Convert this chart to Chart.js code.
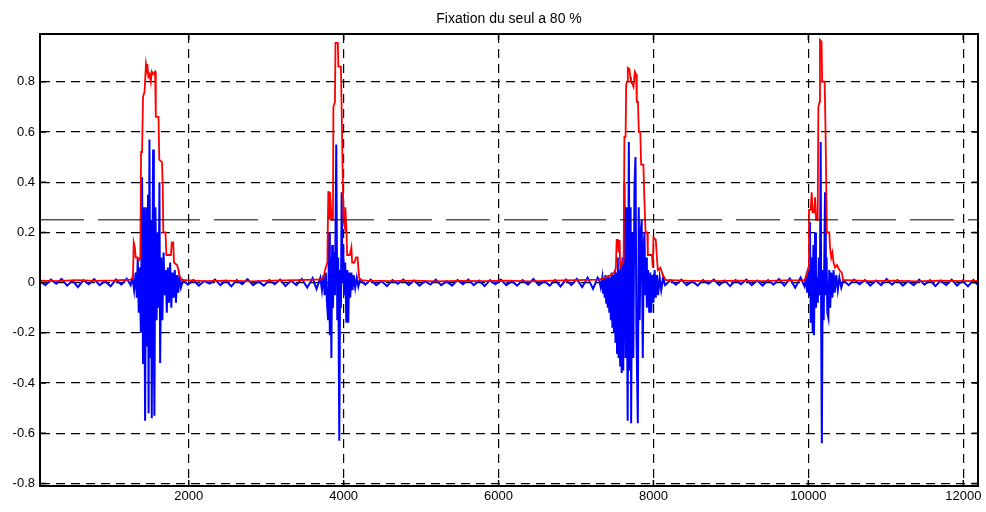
<!DOCTYPE html>
<html>
<head>
<meta charset="utf-8">
<script src="https://cdn.jsdelivr.net/npm/chart.js@4.4.1/dist/chart.umd.min.js"></script>
<style>
  body { margin: 0; background: #fff; }
  canvas { display: block; }
</style>
</head>
<body>
<canvas id="seuilChart" width="986" height="512"></canvas>
<script>
// Signal (bleu) - échantillons
const blueX = [
  80, 150, 220, 290, 360, 430, 500, 570, 640, 710, 780, 850, 920, 990, 1060, 1130, 1200,
  1250, 1275, 1295, 1315, 1330, 1342, 1355, 1368, 1382, 1398, 1410, 1422, 1437, 1450, 1462, 1474,
  1482, 1493, 1505, 1515, 1523, 1540, 1550, 1557, 1570, 1585, 1600, 1612, 1622, 1631, 1645, 1660,
  1675, 1690, 1705, 1717, 1730, 1745, 1760, 1775, 1790, 1805, 1820, 1835, 1850, 1865, 1880, 1900, 1925,
  1990, 2060, 2130, 2200, 2270, 2340, 2410, 2480, 2550, 2620, 2690, 2760, 2830, 2900, 2970, 3040,
  3110, 3180, 3250, 3320, 3390, 3460, 3530, 3600, 3650, 3700,
  3720, 3740, 3755, 3770, 3785, 3800, 3812, 3822, 3832, 3842, 3852, 3862, 3875, 3888, 3905, 3918,
  3930, 3944, 3955, 3965, 3975, 3985, 3995, 4005, 4020, 4035, 4048, 4060, 4072, 4085, 4100, 4115,
  4130, 4150, 4170, 4190, 4210,
  4280, 4350, 4420, 4490, 4560, 4630, 4700, 4770, 4840, 4910, 4980, 5050, 5120, 5190, 5260, 5330,
  5400, 5470, 5540, 5610, 5680, 5750, 5820, 5890, 5960, 6030, 6100, 6170, 6240, 6310, 6380, 6450,
  6520, 6590, 6660, 6730, 6800, 6870, 6940, 7010, 7080, 7150, 7220, 7280,
  7300, 7320, 7340, 7350, 7360, 7370, 7380, 7390, 7400, 7410, 7420, 7430, 7440, 7450, 7460, 7470,
  7480, 7490, 7500, 7510, 7520, 7530, 7540, 7550, 7560, 7570, 7580, 7590, 7600, 7610, 7626, 7640,
  7652, 7667, 7682, 7695, 7705, 7712, 7725, 7740, 7755, 7768, 7780, 7798, 7810, 7822, 7835, 7848,
  7862, 7875, 7884, 7895, 7905, 7915, 7930, 7945, 7960, 7972, 7985, 8000, 8015, 8030, 8045, 8060,
  8080, 8100, 8125, 8150,
  8220, 8290, 8360, 8430, 8500, 8570, 8640, 8710, 8780, 8850, 8920, 8990, 9060, 9130, 9200, 9270,
  9340, 9410, 9480, 9550, 9620, 9690, 9760, 9830, 9900, 9950,
  9970, 9985, 10000, 10013, 10021, 10030, 10042, 10055, 10065, 10073, 10086, 10098, 10110, 10122,
  10135, 10148, 10159, 10166, 10174, 10185, 10198, 10215, 10225, 10235, 10245, 10258, 10270, 10282,
  10295, 10310, 10325, 10340, 10360, 10380, 10400, 10425, 10450,
  10520, 10590, 10660, 10730, 10800, 10870, 10940, 11010, 11080, 11150, 11220, 11290, 11360, 11430,
  11500, 11570, 11640, 11710, 11780, 11850, 11920, 11990, 12060, 12130, 12190
];
const blueY = [
  0.005, -0.01, 0.012, -0.004, 0.015, -0.012, 0.008, -0.018, 0.01, -0.006, 0.014, -0.01, 0.006, -0.015, 0.012, -0.008, 0.016,
  -0.01, 0.02, -0.03, 0.04, -0.06, 0.1, -0.12, 0.06, -0.2, 0.42, -0.32, 0.3, -0.55, 0.3, -0.25, 0.35,
  -0.52, 0.57, -0.3, 0.25, -0.54, 0.53, -0.2, -0.53, 0.3, -0.15, 0.2, -0.1, 0.4, -0.32, 0.1, -0.15,
  0.12, -0.05, 0.05, -0.12, 0.06, -0.08, 0.08, -0.1, 0.04, -0.06, 0.05, -0.08, 0.03, -0.04, 0.02, -0.02, 0.01,
  -0.008, 0.01, -0.012, 0.006, -0.004, 0.012, -0.01, 0.008, -0.015, 0.01, -0.006, 0.014, -0.01, 0.005, -0.012, 0.01,
  -0.006, 0.012, -0.014, 0.008, -0.01, 0.015, -0.02, 0.018, -0.025, 0.02,
  -0.03, 0.03, -0.05, 0.04, -0.08, -0.15, 0.2, -0.21, 0.1, -0.3, 0.15, -0.1, 0.12, -0.05, 0.55, -0.15,
  0.1, -0.63, 0.05, -0.1, 0.36, 0.0, 0.15, -0.05, 0.08, -0.16, 0.05, -0.16, 0.04, -0.06, 0.04, -0.03,
  0.03, -0.02, 0.02, -0.015, 0.01,
  -0.008, 0.012, -0.01, 0.006, -0.014, 0.01, -0.005, 0.012, -0.01, 0.008, -0.012, 0.006, -0.008, 0.012, -0.01, 0.005,
  -0.012, 0.01, -0.006, 0.012, -0.01, 0.008, -0.014, 0.01, -0.006, 0.012, -0.01, 0.006, -0.012, 0.01, -0.008, 0.014,
  -0.01, 0.006, -0.012, 0.01, -0.015, 0.012, -0.01, 0.015, -0.018, 0.02, -0.025, 0.02,
  0.01, -0.02, 0.02, -0.04, 0.02, -0.06, 0.03, -0.08, 0.02, -0.1, 0.03, -0.12, 0.02, -0.15, 0.04, -0.18,
  0.03, -0.2, 0.05, -0.24, 0.04, -0.28, 0.1, -0.3, 0.05, -0.33, 0.08, -0.36, 0.1, -0.35, 0.4, -0.3,
  0.3, -0.55, 0.56, -0.35, 0.3, -0.56, 0.2, -0.3, 0.38, 0.5, -0.2, -0.56, 0.3, -0.15, 0.2, 0.25,
  -0.3, 0.15, 0.2, -0.05, 0.1, -0.1, 0.05, -0.12, 0.04, -0.12, 0.03, -0.08, 0.05, -0.06, 0.03, -0.05,
  0.02, -0.03, 0.02, -0.01,
  0.01, -0.008, 0.012, -0.01, 0.006, -0.012, 0.01, -0.005, 0.012, -0.01, 0.008, -0.014, 0.01, -0.006, 0.012, -0.01,
  0.008, -0.012, 0.01, -0.008, 0.014, -0.012, 0.016, -0.02, 0.02, -0.015,
  0.02, -0.04, 0.05, -0.05, 0.24, -0.16, 0.1, -0.2, 0.15, -0.21, 0.2, -0.1, 0.02, -0.08,
  0.1, -0.05, 0.56, -0.2, -0.64, 0.05, -0.15, 0.36, -0.05, 0.1, -0.12, -0.14, 0.05, -0.1,
  0.04, -0.06, 0.05, -0.04, 0.03, -0.03, 0.02, -0.02, 0.01,
  -0.01, 0.012, -0.006, 0.01, -0.012, 0.008, -0.01, 0.014, -0.008, 0.01, -0.012, 0.006, -0.01, 0.012,
  -0.008, 0.01, -0.014, 0.008, -0.01, 0.012, -0.012, 0.008, -0.015, 0.01, -0.01
];

// Enveloppe (rouge)
const redX = [
  80, 300, 550, 800, 1050, 1250,
  1280, 1290, 1305, 1315, 1340, 1360, 1375, 1385, 1398, 1410, 1430, 1448, 1458, 1465, 1480, 1495,
  1510, 1523, 1540, 1566, 1575, 1610, 1620, 1655, 1665, 1672, 1700, 1712, 1770, 1781, 1800, 1810,
  1850, 1867, 1880, 1910,
  1950, 2200, 2500, 2800, 3100, 3400, 3650,
  3700, 3740, 3760, 3790, 3802, 3812, 3818, 3825, 3835, 3845, 3862, 3868, 3888, 3895, 3925, 3932,
  3965, 3975, 3990, 4000, 4015, 4022, 4035, 4045, 4080, 4100, 4110, 4140, 4160, 4180, 4200, 4230,
  4300, 4600, 4900, 5200, 5500, 5800, 6100, 6400, 6700, 7000, 7300,
  7380, 7450, 7500, 7515, 7525, 7540, 7550, 7563, 7570, 7600, 7615, 7625, 7640, 7648, 7660, 7669,
  7690, 7700, 7710, 7730, 7742, 7760, 7776, 7785, 7800, 7811, 7830, 7841, 7870, 7884, 7898, 7920,
  7927, 7980, 7991, 8000, 8030, 8045, 8056, 8090, 8120, 8160,
  8200, 8500, 8800, 9100, 9400, 9700, 9950,
  9978, 10000, 10008, 10030, 10043, 10055, 10075, 10086, 10100, 10120, 10129, 10145, 10150, 10170,
  10178, 10210, 10222, 10238, 10270, 10280, 10295, 10310, 10325, 10345, 10370, 10400, 10430, 10450,
  10500, 10800, 11100, 11400, 11700, 12000, 12190
];
const redY = [
  0.008, 0.006, 0.01, 0.007, 0.009, 0.012,
  0.02, 0.16, 0.14, 0.1, 0.1, 0.09, 0.1, 0.52, 0.52, 0.74, 0.76, 0.87, 0.85, 0.87, 0.82, 0.83,
  0.8, 0.84, 0.83, 0.84, 0.66, 0.66, 0.49, 0.48, 0.38, 0.2, 0.2, 0.11, 0.11, 0.16, 0.16, 0.08,
  0.07, 0.05, 0.03, 0.01,
  0.01, 0.006, 0.008, 0.005, 0.008, 0.01, 0.012,
  0.012, 0.02, 0.05, 0.08, 0.36, 0.36, 0.25, 0.36, 0.36, 0.25, 0.25, 0.7, 0.72, 0.955, 0.955, 0.86,
  0.86, 0.68, 0.39, 0.24, 0.22, 0.3, 0.22, 0.11, 0.11, 0.14, 0.08, 0.08, 0.1, 0.1, 0.02, 0.01,
  0.008, 0.006, 0.008, 0.005, 0.007, 0.006, 0.008, 0.005, 0.008, 0.01, 0.012,
  0.02, 0.03, 0.04, 0.06, 0.17, 0.17, 0.12, 0.17, 0.06, 0.08, 0.09, 0.58, 0.58, 0.79, 0.8, 0.855,
  0.85, 0.82, 0.8, 0.79, 0.78, 0.84, 0.83, 0.72, 0.72, 0.6, 0.6, 0.47, 0.47, 0.32, 0.2, 0.2,
  0.11, 0.11, 0.06, 0.18, 0.17, 0.1, 0.05, 0.06, 0.03, 0.01,
  0.01, 0.007, 0.006, 0.008, 0.006, 0.009, 0.01,
  0.03, 0.06, 0.29, 0.29, 0.36, 0.28, 0.28, 0.34, 0.25, 0.25, 0.7, 0.72, 0.967, 0.96,
  0.8, 0.8, 0.6, 0.2, 0.2, 0.14, 0.1, 0.12, 0.08, 0.06, 0.07, 0.05, 0.04, 0.01,
  0.01, 0.006, 0.008, 0.005, 0.008, 0.006, 0.007
];

const threshold = 0.25;
const xRange = [80, 12190];
const yRange = [-0.81, 0.99];
const xTicks = [2000, 4000, 6000, 8000, 10000, 12000];
const yTicks = [-0.8, -0.6, -0.4, -0.2, 0, 0.2, 0.4, 0.6, 0.8];
const titleText = 'Fixation du seul a 80 %';

function toPoints(xs, ys) {
  return xs.map(function(x, i) { return { x: x, y: ys[i] }; });
}

// cadre complet, graduations intérieures et titre (style MATLAB)
const framePlugin = {
  id: 'frame',
  afterDraw: function(chart) {
    const ctx = chart.ctx;
    const a = chart.chartArea;
    const xs = chart.scales.x;
    const ys = chart.scales.y;
    ctx.save();
    ctx.strokeStyle = '#000';
    ctx.lineWidth = 1.5;
    ctx.beginPath();
    xTicks.forEach(function(v) {
      const px = xs.getPixelForValue(v);
      ctx.moveTo(px, a.bottom); ctx.lineTo(px, a.bottom - 6);
      ctx.moveTo(px, a.top); ctx.lineTo(px, a.top + 6);
    });
    yTicks.forEach(function(v) {
      const py = ys.getPixelForValue(v);
      ctx.moveTo(a.left, py); ctx.lineTo(a.left + 6, py);
      ctx.moveTo(a.right, py); ctx.lineTo(a.right - 6, py);
    });
    ctx.stroke();
    ctx.lineWidth = 2;
    ctx.strokeRect(a.left, a.top, a.right - a.left, a.bottom - a.top);
    ctx.fillStyle = '#000';
    ctx.font = '14px "Liberation Sans", Arial, sans-serif';
    ctx.textAlign = 'center';
    ctx.textBaseline = 'middle';
    ctx.fillText(titleText, (a.left + a.right) / 2, 19);
    ctx.restore();
  }
};

const tickFont = { family: '"Liberation Sans", Arial, sans-serif', size: 13 };

const ctx = document.getElementById('seuilChart').getContext('2d');
const seuilChart = new Chart(ctx, {
  type: 'line',
  data: {
    datasets: [
      {
        label: 'Seuil',
        data: [{ x: xRange[0], y: threshold }, { x: xRange[1], y: threshold }],
        borderColor: '#000',
        borderWidth: 1,
        borderDash: [44, 14],
        pointRadius: 0
      },
      {
        label: 'Enveloppe',
        data: toPoints(redX, redY),
        borderColor: '#ff0000',
        borderWidth: 1.8,
        pointRadius: 0,
        tension: 0
      },
      {
        label: 'Signal',
        data: toPoints(blueX, blueY),
        borderColor: '#0000ff',
        borderWidth: 2,
        pointRadius: 0,
        tension: 0
      }
    ]
  },
  options: {
    responsive: false,
    animation: false,
    layout: { padding: { top: 34, right: 8, left: 0, bottom: 0 } },
    plugins: {
      legend: { display: false },
      title: { display: false },
      tooltip: { enabled: false }
    },
    scales: {
      x: {
        type: 'linear',
        min: xRange[0],
        max: xRange[1],
        afterBuildTicks: function(scale) {
          scale.ticks = xTicks.map(function(v) { return { value: v }; });
        },
        afterFit: function(scale) { scale.height = 26; },
        ticks: {
          color: '#000',
          font: tickFont,
          padding: 3,
          maxRotation: 0,
          autoSkip: false,
          callback: function(value) { return String(value); }
        },
        grid: { color: '#000', lineWidth: 1.2, drawTicks: false },
        border: { display: true, color: '#000', width: 2, dash: [9, 6] }
      },
      y: {
        type: 'linear',
        min: yRange[0],
        max: yRange[1],
        afterBuildTicks: function(scale) {
          scale.ticks = yTicks.map(function(v) { return { value: v }; });
        },
        afterFit: function(scale) { scale.width = 40; },
        ticks: {
          color: '#000',
          font: tickFont,
          padding: 5,
          callback: function(value) { return String(value); }
        },
        grid: { color: '#000', lineWidth: 1.2, drawTicks: false },
        border: { display: true, color: '#000', width: 2, dash: [9, 6] }
      }
    }
  },
  plugins: [framePlugin]
});
</script>
</body>
</html>
